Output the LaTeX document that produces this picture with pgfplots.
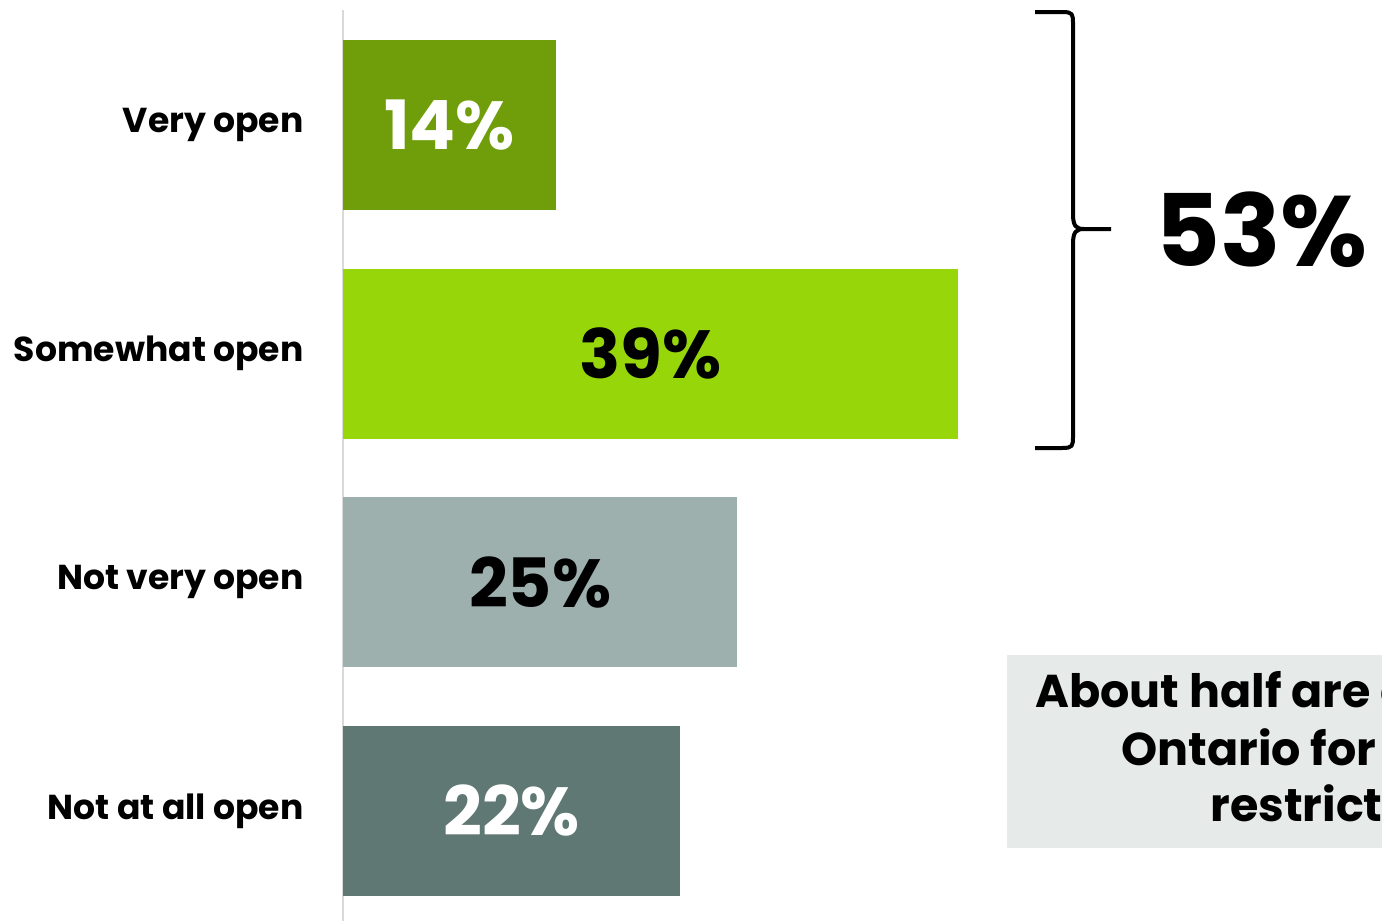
\documentclass[border=0pt]{standalone}
\usepackage{fontspec}
\setmainfont{Poppins}
\usepackage{pgfplots}
\pgfplotsset{compat=1.18}
\definecolor{cVery}{HTML}{6F9E0A}
\definecolor{cSome}{HTML}{97D70A}
\definecolor{cNotVery}{HTML}{9DB0AE}
\definecolor{cNotAll}{HTML}{5F7874}
\definecolor{axgray}{HTML}{D9D9D9}
\definecolor{boxgray}{HTML}{E6EAE9}
\begin{document}
\begin{tikzpicture}
\useasboundingbox (0,0) rectangle (691pt,-460.5pt);
\clip (0,0) rectangle (691pt,-460.5pt);
\begin{axis}[
  at={(171.5pt,-405.5pt)}, anchor=origin,
  x=7.885pt, y=114.33pt,
  xmin=0, xmax=50, ymin=-0.481, ymax=3.503,
  axis x line=none, axis y line*=left,
  axis line style={draw=axgray, line width=1pt, -},
  ytick={0,1,2,3},
  yticklabels={Not at all open, Not very open, Somewhat open, Very open},
  major tick length=0pt,
  yticklabel style={anchor=east, inner sep=0pt, xshift=-19.5pt, font=\fontsize{17.3pt}{21pt}\selectfont\bfseries},
  clip=false,
]
\addplot[xbar, bar width=85pt, bar shift=0pt, fill=cVery, draw=none] coordinates {(13.5,3)};
\addplot[xbar, bar width=85pt, bar shift=0pt, fill=cSome, draw=none] coordinates {(39.0,2)};
\addplot[xbar, bar width=85pt, bar shift=0pt, fill=cNotVery, draw=none] coordinates {(25.0,1)};
\addplot[xbar, bar width=85pt, bar shift=0pt, fill=cNotAll, draw=none] coordinates {(21.4,0)};
\addplot[draw=none, mark=none, nodes near coords={14\%}, every node near coord/.style={anchor=center, text=white, font=\fontsize{34pt}{40pt}\selectfont\bfseries}] coordinates {(6.75,3)};
\addplot[draw=none, mark=none, nodes near coords={39\%}, every node near coord/.style={anchor=center, text=black, font=\fontsize{34pt}{40pt}\selectfont\bfseries}] coordinates {(19.5,2)};
\addplot[draw=none, mark=none, nodes near coords={25\%}, every node near coord/.style={anchor=center, text=black, font=\fontsize{34pt}{40pt}\selectfont\bfseries}] coordinates {(12.5,1)};
\addplot[draw=none, mark=none, nodes near coords={22\%}, every node near coord/.style={anchor=center, text=white, font=\fontsize{34pt}{40pt}\selectfont\bfseries}] coordinates {(10.7,0)};
\end{axis}
\begin{scope}[x=0.5pt, y=-0.5pt]
  % brace
  \draw[line width=2pt, line cap=butt, line join=round]
    (1035,12) -- (1062,12) .. controls (1073,12) and (1073,14) .. (1073,24)
    -- (1073,214) .. controls (1073,226) and (1076,229) .. (1084,229) -- (1111,229);
  \draw[line width=2pt, line cap=butt, line join=round]
    (1035,448) -- (1062,448) .. controls (1073,448) and (1073,446) .. (1073,436)
    -- (1073,244) .. controls (1073,232) and (1076,229) .. (1084,229);
  \node[anchor=west, inner sep=0pt, font=\fontsize{50pt}{56pt}\selectfont\bfseries] at (1155,230) {53\%};
  % box
  \fill[boxgray] (1007,655) rectangle (1420,848);
  \begin{scope}[every node/.style={anchor=base west, inner sep=0pt, font=\fontsize{23pt}{28pt}\selectfont\bfseries}]
    \node at (1035,707) {About half are open to};
    \node at (1121,765) {Ontario for lifting};
    \node at (1210,821) {restrictions};
  \end{scope}
\end{scope}
\end{tikzpicture}
\end{document}
